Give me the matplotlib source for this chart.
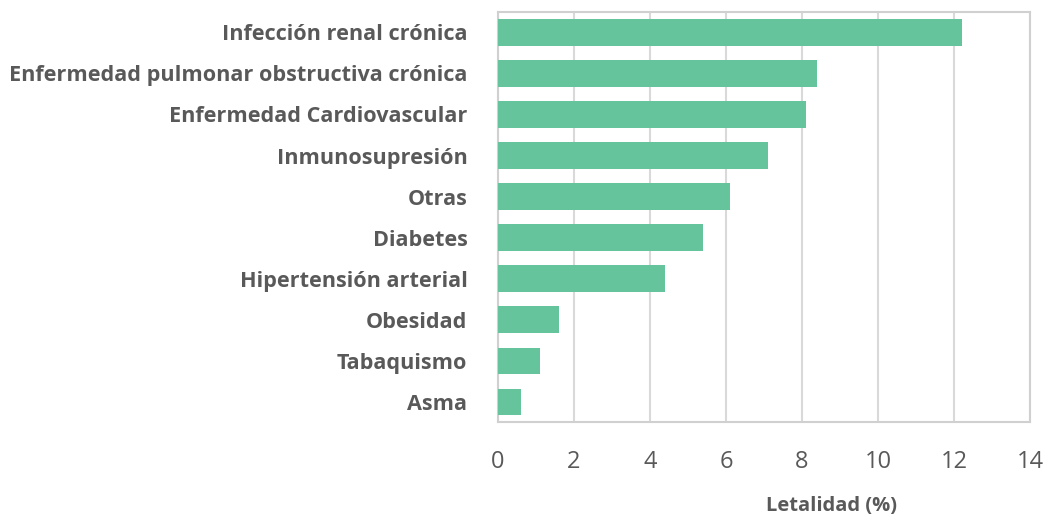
import matplotlib
matplotlib.use("Agg")
import matplotlib.pyplot as plt

categories = [
    "Infección renal crónica",
    "Enfermedad pulmonar obstructiva crónica",
    "Enfermedad Cardiovascular",
    "Inmunosupresión",
    "Otras",
    "Diabetes",
    "Hipertensión arterial",
    "Obesidad",
    "Tabaquismo",
    "Asma",
]
letalidad = [12.2, 8.4, 8.1, 7.1, 6.1, 5.4, 4.4, 1.6, 1.1, 0.6]
xticks = [0, 2, 4, 6, 8, 10, 12, 14]

plt.rcParams["font.family"] = ["Open Sans", "DejaVu Sans"]
text_color = "#595959"

fig = plt.figure(figsize=(10.45, 5.18), dpi=100)
ax = fig.add_axes([0.4766, 0.185, 0.509, 0.792])

ax.barh(range(len(categories)), letalidad, height=0.64, color="#66c49c", zorder=3)

ax.set_xlim(0, 14)
ax.set_ylim(len(categories) - 0.5, -0.5)
ax.set_xticks(xticks)
ax.set_yticks(range(len(categories)))
ax.set_yticklabels(categories)

ax.grid(axis="x", color="#d9d9d9", linewidth=1.5, zorder=0)
for s in ax.spines.values():
    s.set_color("#d0d0d0")
    s.set_linewidth(1.5)

ax.tick_params(axis="both", length=0, colors=text_color)
ax.tick_params(axis="x", labelsize=17, pad=20)
ax.tick_params(axis="y", labelsize=15.6, pad=22)
for lab in ax.get_yticklabels():
    lab.set_fontweight("bold")

ax.set_xlabel("Letalidad (%)", fontsize=14.5, color=text_color,
              fontweight="bold")
ax.xaxis.set_label_coords(0.626, -0.18)

fig.savefig("out.png", dpi=100)
